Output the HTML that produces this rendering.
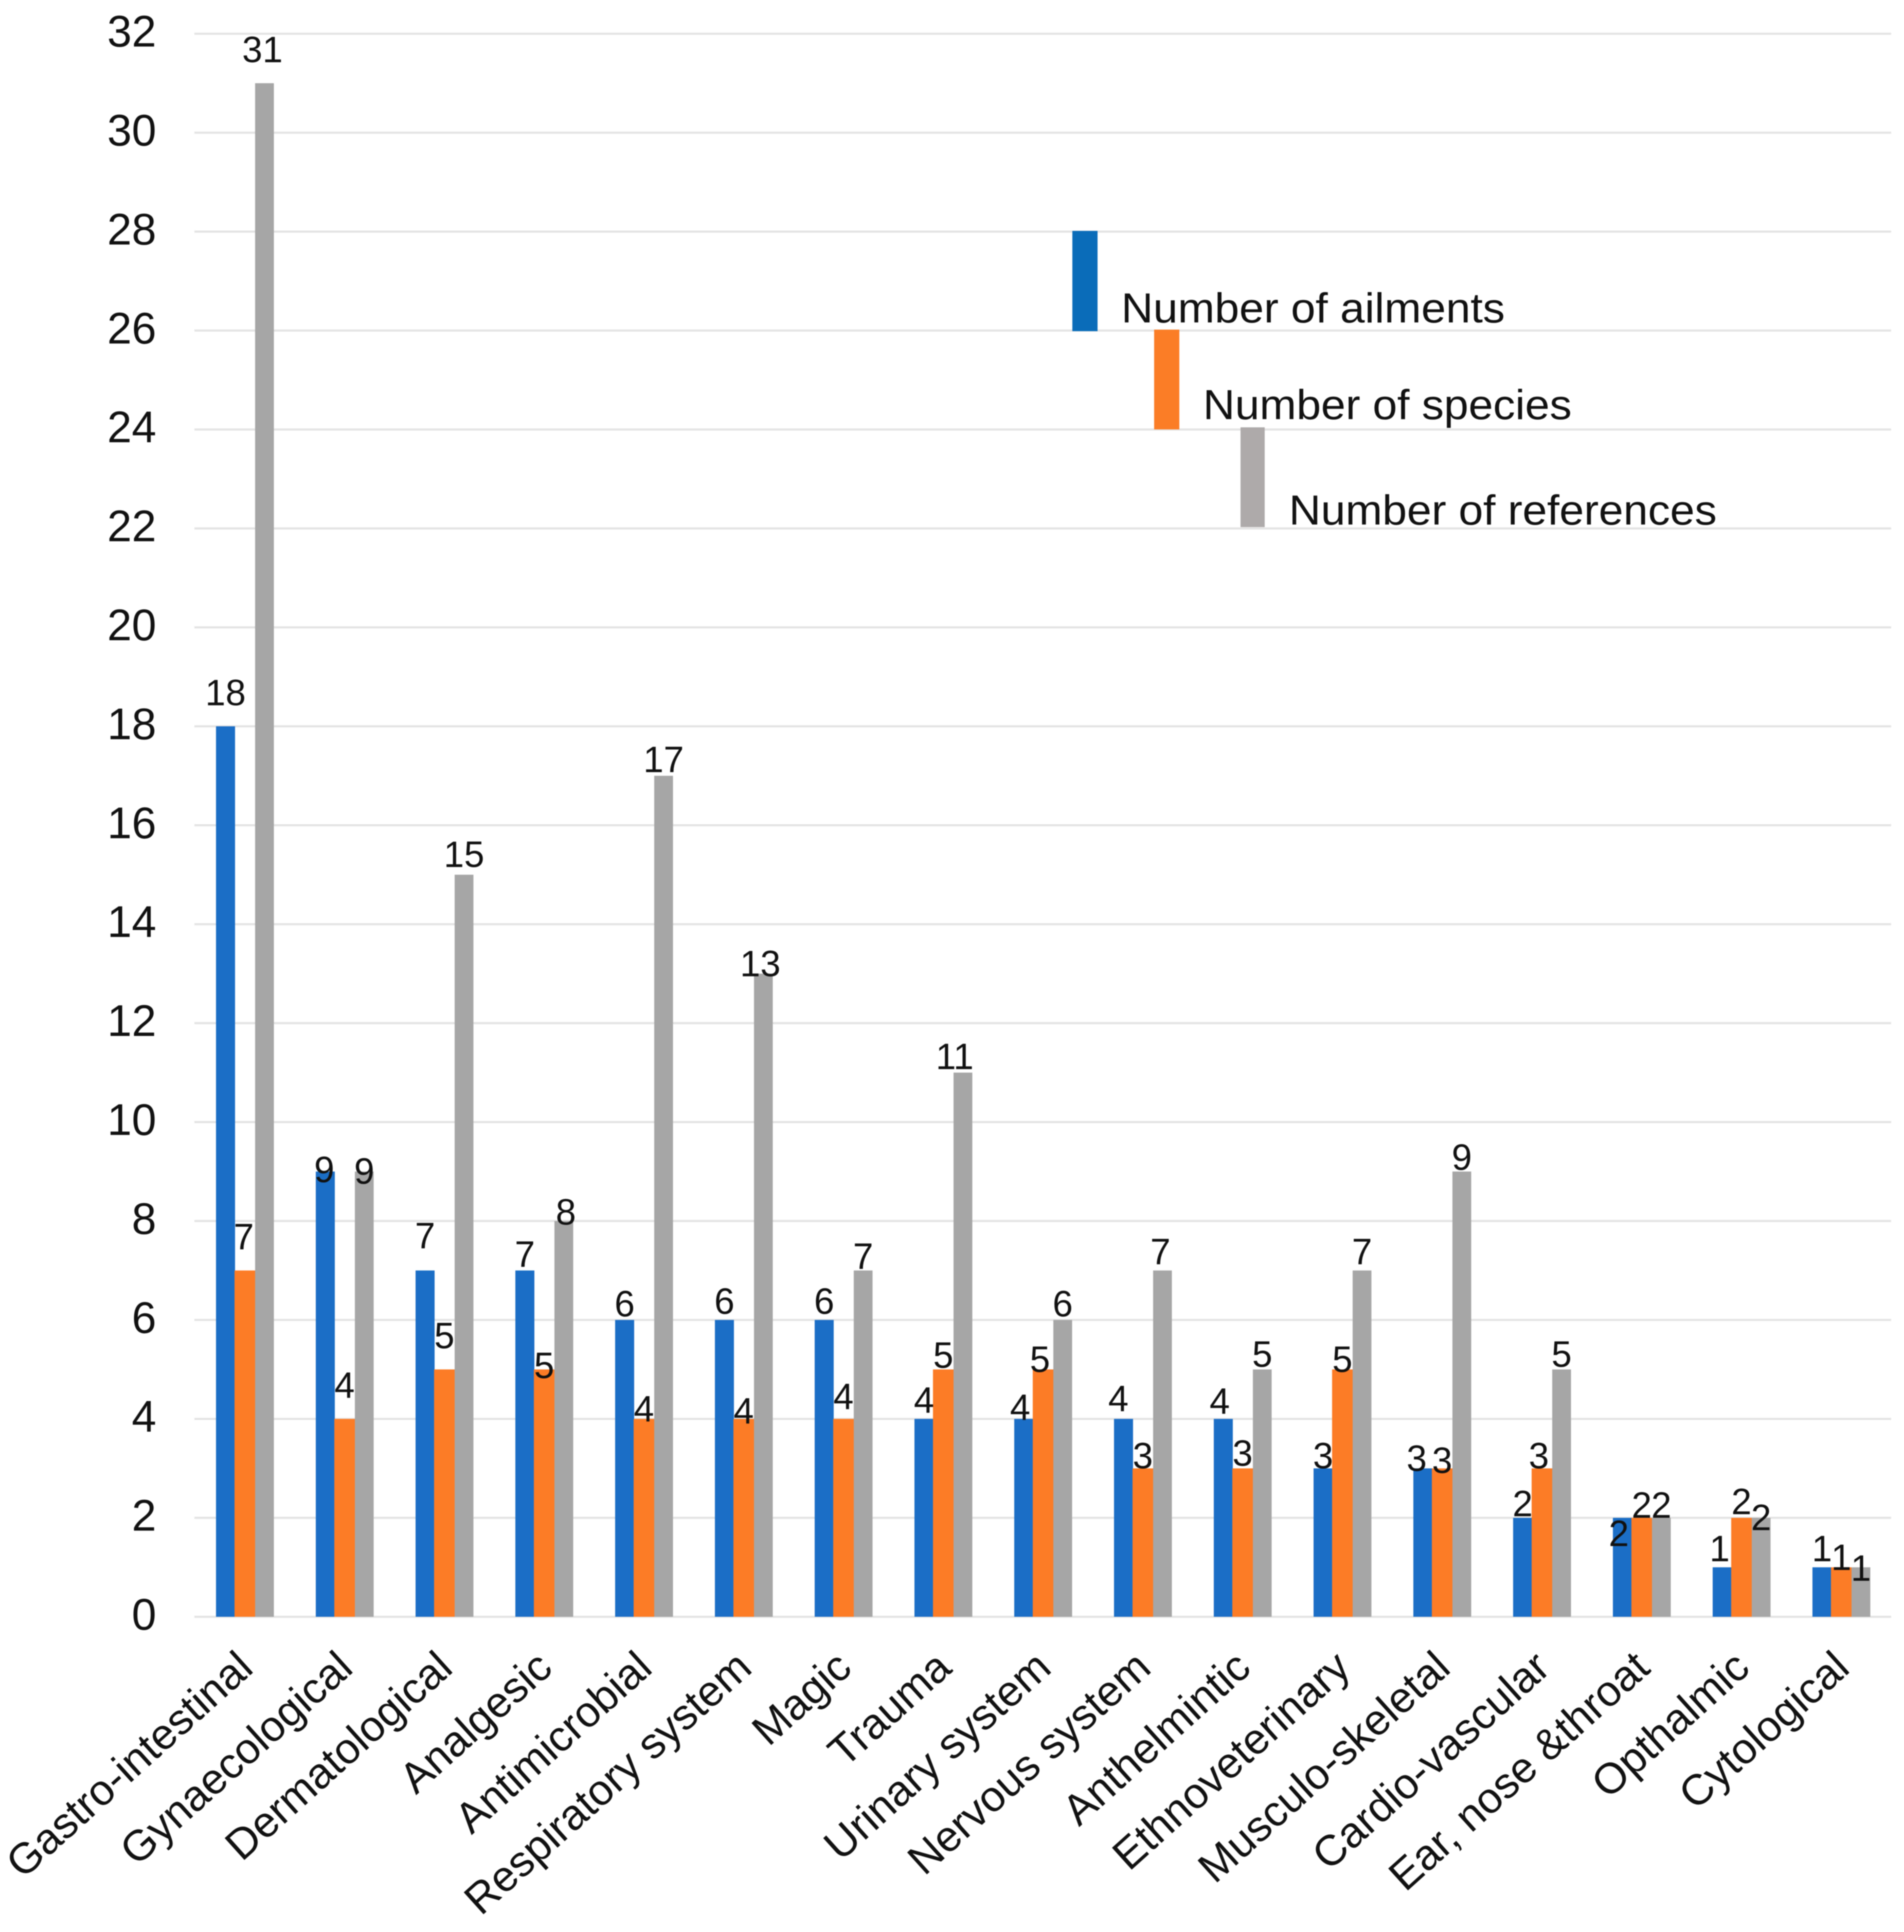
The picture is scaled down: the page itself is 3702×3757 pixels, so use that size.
<!DOCTYPE html>
<html lang="en">
<head>
<meta charset="utf-8">
<title>Ailments, species and references by category</title>
<style>
html,body{margin:0;padding:0;background:#fff;}
svg{display:block;filter:blur(1px);}
text{font-family:"Liberation Sans",Arial,sans-serif;fill:#111;}
</style>
</head>
<body>
<svg id="chart" xmlns="http://www.w3.org/2000/svg" width="3702" height="3757" viewBox="0 0 3702 3757">
  <g id="grid"></g>
  <g id="bars"></g>
  <g id="labels"></g>
  <g id="yticks"></g>
  <g id="xticks"></g>
  <g id="legend">
    <rect x="2085" y="449" width="49" height="195" fill="#0a6cb9"/>
    <text x="2180" y="627" font-size="82" textLength="746" lengthAdjust="spacingAndGlyphs">Number of ailments</text>
    <rect x="2244" y="641" width="49" height="194" fill="#fb7d26"/>
    <text x="2339" y="815" font-size="82" textLength="717" lengthAdjust="spacingAndGlyphs">Number of species</text>
    <rect x="2412" y="831" width="47" height="194" fill="#aeaaaa"/>
    <text x="2506" y="1020" font-size="82" textLength="832" lengthAdjust="spacingAndGlyphs">Number of references</text>
  </g>
</svg>
<script>
const categories = ["Gastro-intestinal","Gynaecological","Dermatological","Analgesic","Antimicrobial","Respiratory system","Magic","Trauma","Urinary system","Nervous system","Anthelmintic","Ethnoveterinary","Musculo-skeletal","Cardio-vascular","Ear, nose &throat","Opthalmic","Cytological"];
const ailments = [18,9,7,7,6,6,6,4,4,4,4,3,3,2,2,1,1];
const species = [7,4,5,5,4,4,4,5,5,3,3,5,3,3,2,2,1];
const references = [31,9,15,8,17,13,7,11,6,7,5,7,9,5,2,2,1];
const yTickValues = [0,2,4,6,8,10,12,14,16,18,20,22,24,26,28,30,32];

/* Hand-placed label nudges from the default spot above each bar: [dx, dy] per category */
const nudgeAilments = [[0,0],[-2,62],[0,-2],[0,34],[0,34],[0,29],[0,29],[0,29],[-7,43],[-10,26],[-7,31],[0,41],[-12,46],[0,38],[-7,96],[-5,29],[0,29]];
const nudgeSpecies = [[-2,0],[0,0],[0,0],[0,58],[0,46],[0,50],[0,22],[0,38],[-6,46],[0,41],[0,36],[0,46],[0,50],[-6,41],[0,41],[0,34],[0,46]];
const nudgeReferences = [[-4,0],[0,65],[0,26],[4,48],[0,34],[-6,46],[0,38],[-16,34],[0,34],[-4,29],[0,36],[0,29],[0,38],[0,36],[0,41],[0,65],[0,67]];

const SVG_NS = "http://www.w3.org/2000/svg";
const plotLeft = 378, plotRight = 3677, baseY = 3144, unitY = 96.2;
const groupStart = 421, groupStep = 194;
const seriesLayout = [
  {key:"ailments", values:ailments, nudge:nudgeAilments, off:-1, w:37, fill:"#1b6ec6"},
  {key:"species", values:species, nudge:nudgeSpecies, off:35, w:40, fill:"#fc7c26"},
  {key:"references", values:references, nudge:nudgeReferences, off:75, w:36.5, fill:"#a6a6a6"}
];
function yScale(v){ return baseY - v * unitY; }
function xScale(i){ return groupStart + i * groupStep; }
function make(tag, attrs, parent){
  const el = document.createElementNS(SVG_NS, tag);
  for (const k in attrs) el.setAttribute(k, attrs[k]);
  parent.appendChild(el);
  return el;
}
const gridG = document.getElementById("grid");
const barsG = document.getElementById("bars");
const labelsG = document.getElementById("labels");
const yG = document.getElementById("yticks");
const xG = document.getElementById("xticks");

yTickValues.forEach(function(v){
  const line = make("line", {x1:plotLeft, x2:plotRight, y1:yScale(v), y2:yScale(v), stroke:"#e3e3e3", "stroke-width":4}, gridG);
  
  
  const t = make("text", {x:304, y:yScale(v) + 25, "font-size":86, "text-anchor":"end"}, yG);
  t.textContent = String(v);
  
  
});

seriesLayout.forEach(function(s){
  s.values.forEach(function(v, i){
    const top = yScale(v);
    const bar = make("rect", {x:xScale(i) + s.off, y:top, width:s.w, height:baseY - top, fill:s.fill}, barsG);
    
    
  });
});

seriesLayout.forEach(function(s){
  s.values.forEach(function(v, i){
    const n = s.nudge[i];
    const t = make("text", {x:xScale(i) + s.off + s.w / 2 + n[0], y:yScale(v) - 41 + n[1], "font-size":71, "text-anchor":"middle"}, labelsG);
    t.textContent = String(v);
    
    
  });
});

categories.forEach(function(c, i){
  const ax = xScale(i) + 75, ay = baseY + 105;
  const t = make("text", {x:ax, y:ay, "font-size":83.5, "text-anchor":"end", transform:"rotate(-42 " + ax + " " + ay + ")"}, xG);
  t.textContent = c;
  
  
});
</script>
</body>
</html>
